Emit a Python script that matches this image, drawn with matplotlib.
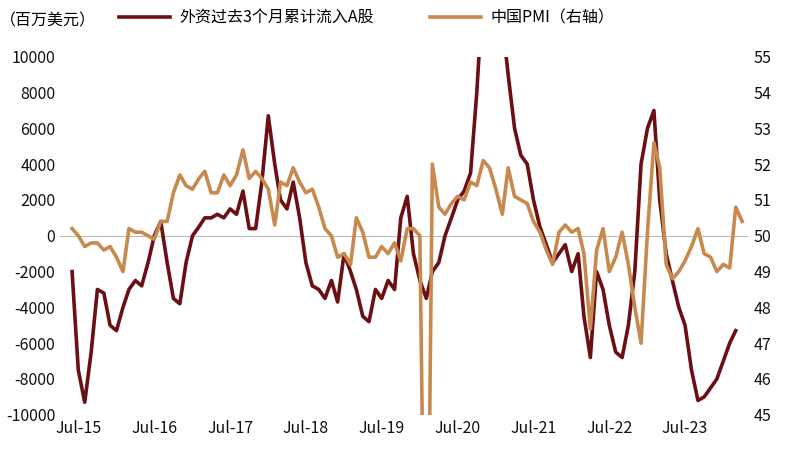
import matplotlib
matplotlib.use('Agg')
import matplotlib.pyplot as plt
import pandas as pd

plt.rcParams['font.family'] = ['Noto Sans CJK SC', 'DejaVu Sans']
plt.rcParams['axes.unicode_minus'] = False

# 外资过去3个月累计流入A股（百万美元），月度读数
flow_start = '2015-06-01'
flow = [-2000, -7500, -9300, -6500, -3000, -3200, -5000,
        -5300, -4000, -3000, -2500, -2800, -1500, 0, 800, -1500, -3500, -3800, -1500,
        0, 500, 1000, 1000, 1200, 1000, 1500, 1200, 2500, 400, 400, 3000,
        6700, 4000, 2000, 1500, 3000, 1000, -1500, -2800, -3000, -3500, -2500, -3700,
        -1000, -2000, -3000, -4500, -4800, -3000, -3500, -2500, -3000, 1000, 2200, -1000,
        -2500, -3500, -2000, -1500, 0, 1000, 2000, 2500, 3500, 8000, 14000,
        16000, 14000, 12000, 9000, 6000, 4500, 4000, 2000, 500, -500, -1500, -1000,
        -500, -2000, -1000, -4500, -6800, -2000, -3000, -5000, -6500, -6800, -5000, -2000,
        4000, 6000, 7000, 2000, -1000, -2500, -4000, -5000, -7500, -9200, -9000, -8500,
        -8000, -7000, -6000, -5300]

# 中国PMI（右轴）
pmi_start = '2015-06-01'
pmi = [50.2, 50.0, 49.7, 49.8, 49.8, 49.6, 49.7,
       49.4, 49.0, 50.2, 50.1, 50.1, 50.0, 49.9, 50.4, 50.4, 51.2, 51.7, 51.4,
       51.3, 51.6, 51.8, 51.2, 51.2, 51.7, 51.4, 51.7, 52.4, 51.6, 51.8, 51.6,
       51.3, 50.3, 51.5, 51.4, 51.9, 51.5, 51.2, 51.3, 50.8, 50.2, 50.0, 49.4,
       49.5, 49.2, 50.5, 50.1, 49.4, 49.4, 49.7, 49.5, 49.8, 49.3, 50.2, 50.2,
       50.0, 35.7, 52.0, 50.8, 50.6, 50.9, 51.1, 51.0, 51.5, 51.4, 52.1, 51.9,
       51.3, 50.6, 51.9, 51.1, 51.0, 50.9, 50.4, 50.1, 49.6, 49.2, 50.1, 50.3,
       50.1, 50.2, 49.5, 47.4, 49.6, 50.2, 49.0, 49.4, 50.1, 49.2, 48.0, 47.0,
       50.1, 52.6, 51.9, 49.2, 48.8, 49.0, 49.3, 49.7, 50.2, 49.5, 49.4, 49.0,
       49.2, 49.1, 50.8, 50.4]

tick_labels = ['Jul-15', 'Jul-16', 'Jul-17', 'Jul-18', 'Jul-19', 'Jul-20', 'Jul-21', 'Jul-22', 'Jul-23']

flow_dates = pd.date_range(flow_start, periods=len(flow), freq='MS')
pmi_dates = pd.date_range(pmi_start, periods=len(pmi), freq='MS')

dark = '#6B0F14'
tan = '#C8894F'

fig = plt.figure(figsize=(8.03, 4.65), dpi=100)
ax = fig.add_axes([0.075, 0.108, 0.857, 0.77])
ax2 = ax.twinx()

ax.axhline(0, color='#BBBBBB', lw=0.8, zorder=0)
l1, = ax.plot(flow_dates, flow, color=dark, lw=2.6, zorder=2)
l2, = ax2.plot(pmi_dates, pmi, color=tan, lw=2.6, zorder=3)
ax2.set_zorder(ax.get_zorder() + 1)
ax2.patch.set_visible(False)

ax.set_ylim(-10000, 10000)
ax.set_yticks(range(-10000, 10001, 2000))
ax2.set_ylim(45, 55)
ax2.set_yticks(range(45, 56))

ax.set_xlim(pd.Timestamp('2015-04-05'), pd.Timestamp('2024-05-01'))
ax.set_xticks(pd.date_range('2015-07-01', periods=len(tick_labels), freq='12MS'))
ax.set_xticklabels(tick_labels)

for a in (ax, ax2):
    for s in a.spines.values():
        s.set_visible(False)
    a.tick_params(length=0, labelsize=11.5, colors='#111111')

fig.text(0.0, 0.955, '（百万美元）', fontsize=11.5, va='center')
fig.legend([l1, l2], ['外资过去3个月累计流入A股', '中国PMI（右轴）'],
           loc='center left', bbox_to_anchor=(0.13, 0.962), ncol=2, frameon=False,
           fontsize=11.5, handlelength=3.2, columnspacing=3.5, handletextpad=0.6)

fig.savefig('out.png', dpi=100)
